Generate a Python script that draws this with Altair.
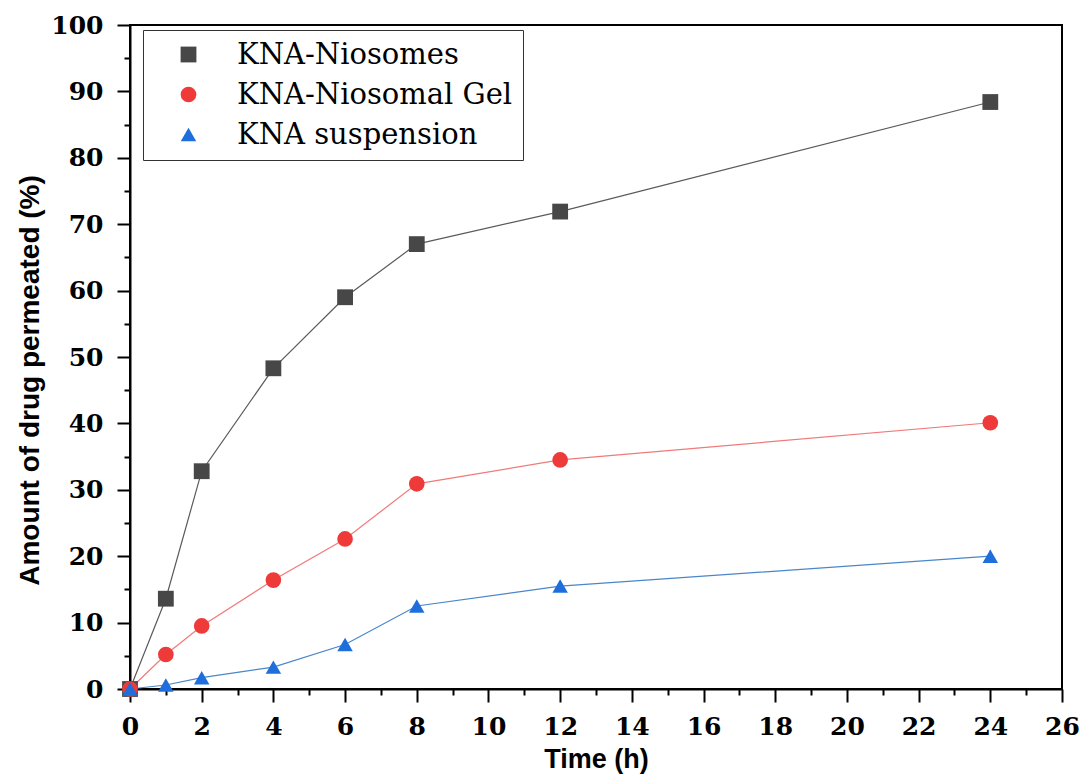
import altair as alt
import pandas as pd

times = [0, 1, 2, 4, 6, 8, 12, 24]
niosomes = [0, 13.6, 32.8, 48.3, 59.0, 67.0, 71.9, 88.4]
gel = [0, 5.2, 9.5, 16.4, 22.6, 30.9, 34.5, 40.1]
suspension = [0, 0.6, 1.7, 3.3, 6.7, 12.5, 15.5, 20.0]
err_nio = [0, 0.4, 0.5, 0.5, 0.5, 0.5, 0.5, 0.6]
err_gel = [0, 0.4, 0.5, 0.5, 0.5, 0.5, 0.6, 1.1]
err_sus = [0, 0.2, 0.3, 0.3, 0.4, 0.6, 0.8, 0.9]

series = ["KNA-Niosomes", "KNA-Niosomal Gel", "KNA suspension"]
marker_colors = ["#474747", "#ef3a3a", "#1e6fdc"]
line_colors = ["#5a5a5a", "#f07a7a", "#4a86c8"]
shapes = ["square", "circle", "triangle-up"]
marker_sizes = [250, 240, 560]

major_x = list(range(0, 27, 2))
minor_x = list(range(1, 26, 2))
major_y = list(range(0, 101, 10))
minor_y = list(range(5, 100, 10))

rows = []
for name, vals, errs in zip(series, [niosomes, gel, suspension], [err_nio, err_gel, err_sus]):
    for t, v, e in zip(times, vals, errs):
        rows.append({"Time": t, "Value": v, "lo": v - e, "hi": v + e, "Series": name})
df = pd.DataFrame(rows)

x_scale = alt.Scale(domain=[0, 26], nice=False, zero=False)
y_scale = alt.Scale(domain=[0, 100], nice=False)

legend_def = alt.Legend(title=None, orient="none", legendX=13, legendY=5,
                        labelFont="DejaVu Serif", labelFontSize=29,
                        labelColor="black", symbolSize=240,
                        strokeColor="#333333", fillColor="white",
                        padding=10, rowPadding=10, symbolOffset=21, labelOffset=34,
                        symbolStrokeWidth=0, labelLimit=500)
stroke_line = alt.Stroke("Series:N", scale=alt.Scale(domain=series, range=line_colors), legend=legend_def)
fill_pt = alt.Fill("Series:N", scale=alt.Scale(domain=series, range=marker_colors), legend=legend_def)
shape_enc = alt.Shape("Series:N", scale=alt.Scale(domain=series, range=shapes), legend=legend_def)
size_enc = alt.Size("Series:N", scale=alt.Scale(domain=series, range=marker_sizes), legend=legend_def)

main_x = alt.Axis(values=major_x, title="Time (h)", orient="bottom",
                  labelFont="DejaVu Serif", labelFontWeight="bold", labelFontSize=25,
                  labelColor="black", titleFont="Liberation Sans", titleFontWeight="bold",
                  titleFontSize=27, titleColor="black", titlePadding=7,
                  tickSize=13, tickWidth=2, tickColor="black", domainColor="black",
                  domainWidth=2, labelPadding=12, grid=False, labelFlush=False,
                  labelOverlap=False)
main_y = alt.Axis(values=major_y, title="Amount of drug permeated (%)", orient="left",
                  labelFont="DejaVu Serif", labelFontWeight="bold", labelFontSize=25,
                  labelColor="black", titleFont="Liberation Sans", titleFontWeight="bold",
                  titleFontSize=28, titleColor="black", titlePadding=6, titleY=355,
                  tickSize=13, tickWidth=2, tickColor="black", domainColor="black",
                  domainWidth=2, labelPadding=14, grid=False, labelFlush=False,
                  labelOverlap=False)

base = alt.Chart(df)

lines = base.mark_line(strokeWidth=1.2).encode(
    x=alt.X("Time:Q", scale=x_scale, axis=main_x),
    y=alt.Y("Value:Q", scale=y_scale, axis=main_y),
    stroke=stroke_line,
)

minor = base.mark_point(opacity=0).encode(
    x=alt.X("Time:Q", scale=x_scale,
            axis=alt.Axis(values=minor_x, orient="bottom", labels=False, title=None,
                          tickSize=6, tickWidth=2, tickColor="black", domain=False,
                          grid=False)),
    y=alt.Y("Value:Q", scale=y_scale,
            axis=alt.Axis(values=minor_y, orient="left", labels=False, title=None,
                          tickSize=6, tickWidth=2, tickColor="black", domain=False,
                          grid=False)),
)

errs = base.mark_rule(strokeWidth=1.5).encode(
    x=alt.X("Time:Q", scale=x_scale, axis=None),
    y=alt.Y("lo:Q", scale=y_scale, axis=None),
    y2="hi:Q",
    stroke=stroke_line,
)

points = base.mark_point(filled=True, opacity=1, strokeWidth=0).encode(
    x=alt.X("Time:Q", scale=x_scale, axis=None),
    y=alt.Y("Value:Q", scale=y_scale, axis=None),
    fill=fill_pt,
    shape=shape_enc,
    size=size_enc,
)

chart = alt.layer(lines, minor, errs, points).resolve_axis(
    x="independent", y="independent"
).properties(
    width=932, height=664,
    autosize=alt.AutoSizeParams(type="none"),
    padding={"left": 130, "top": 25, "right": 23, "bottom": 86},
).configure(background="white").configure_view(stroke="black", strokeWidth=2)

chart.save("out.html", embed_options={"renderer": "svg", "actions": False})
